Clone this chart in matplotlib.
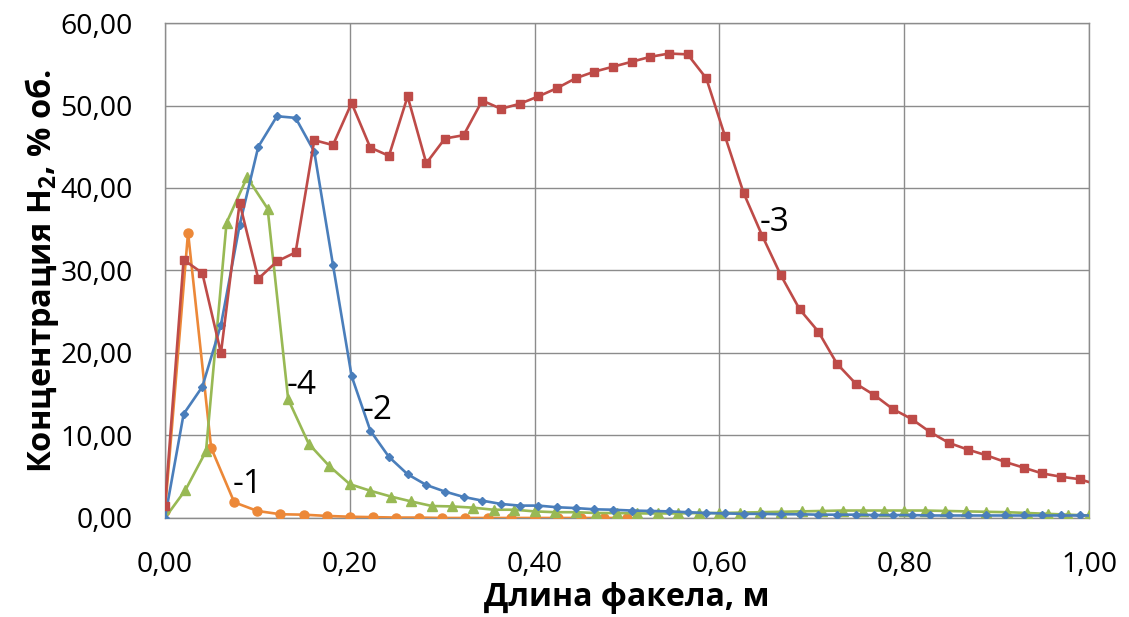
import numpy as np
import matplotlib
matplotlib.use("Agg")
import matplotlib.pyplot as plt
from matplotlib.ticker import FuncFormatter

# ---- data ----
step_23 = 0.0202   # x step of curves 2 and 3
step_4 = 1 / 45    # x step of curve 4
step_1 = 0.025     # x step of curve 1

curve1 = [0.8, 34.6, 8.5, 1.9, 0.85, 0.45, 0.4, 0.25, 0.15, 0.1, 0.05, 0.05,
          0.0, 0.0, 0.0, 0.0, 0.0, 0.0, 0.0, 0.0, 0.0]
curve2 = [0.0, 12.6, 15.9, 23.4, 35.5, 45.0, 48.7, 48.5, 44.4, 30.7, 17.2, 10.6,
          7.4, 5.3, 4.0, 3.2, 2.55, 2.1, 1.7, 1.5, 1.5, 1.3, 1.2, 1.05, 1.0, 0.9,
          0.85, 0.8, 0.7, 0.6, 0.55, 0.5, 0.5, 0.45, 0.45, 0.4, 0.4, 0.4, 0.35,
          0.35, 0.35, 0.3, 0.3, 0.3, 0.3, 0.3, 0.3, 0.3, 0.3, 0.3, 0.3]
curve3 = [1.4, 31.3, 29.7, 20.0, 38.2, 29.0, 31.1, 32.2, 45.8, 45.2, 50.3, 44.9,
          43.9, 51.1, 43.0, 46.0, 46.4, 50.6, 49.6, 50.2, 51.1, 52.1, 53.3, 54.1,
          54.7, 55.3, 55.9, 56.3, 56.2, 53.3, 46.3, 39.4, 34.2, 29.4, 25.3, 22.6,
          18.7, 16.3, 14.9, 13.2, 12.0, 10.4, 9.1, 8.3, 7.6, 6.8, 6.1, 5.4, 5.0,
          4.7, 4.0]
curve4 = [0.0, 3.4, 8.1, 35.8, 41.3, 37.5, 14.4, 9.0, 6.3, 4.1, 3.3, 2.6, 2.0,
          1.45, 1.4, 1.25, 1.0, 1.0, 0.8, 0.7, 0.7, 0.6, 0.6, 0.55, 0.55, 0.55,
          0.6, 0.6, 0.65, 0.7, 0.75, 0.8, 0.85, 0.9, 0.9, 0.9, 0.9, 0.9, 0.85,
          0.8, 0.75, 0.7, 0.6, 0.5, 0.4, 0.3]

labels = ["-1", "-2", "-3", "-4"]
label_pos = [(0.089, 4.0), (0.230, 13.0), (0.660, 35.8), (0.148, 16.0)]

x_ticks = [0.0, 0.2, 0.4, 0.6, 0.8, 1.0]
y_ticks = [0, 10, 20, 30, 40, 50, 60]
x_title = "Длина факела, м"
y_title = r"Концентрация H$\mathbf{_2}$, % об."

x1 = np.arange(len(curve1)) * step_1
x2 = np.arange(len(curve2)) * step_23
x3 = np.arange(len(curve3)) * step_23
x4 = np.arange(len(curve4)) * step_4

# ---- style ----
plt.rcParams["font.family"] = ["Open Sans", "DejaVu Sans"]
plt.rcParams["mathtext.fontset"] = "custom"
plt.rcParams["mathtext.rm"] = "Open Sans"
plt.rcParams["mathtext.bf"] = "Open Sans:bold"

c_blue = "#4A7EBB"
c_red = "#BE4B48"
c_green = "#98B954"
c_orange = "#EC8838"
grid_c = "#8C8C8C"

fig = plt.figure(figsize=(11.29, 6.17), dpi=100)
ax = fig.add_axes([0.1461, 0.1605, 0.8185, 0.8022])

lw = 1.9
ax.plot(x1, curve1, color=c_orange, lw=lw, marker="o", ms=6.5, zorder=3)
ax.plot(x4, curve4, color=c_green, lw=lw, marker="^", ms=6.5, zorder=4)
ax.plot(x2, curve2, color=c_blue, lw=lw, marker="D", ms=4.5, zorder=5)
ax.plot(x3, curve3, color=c_red, lw=lw, marker="s", ms=6, zorder=6)

for t, (lx, ly) in zip(labels, label_pos):
    ax.text(lx, ly, t, fontsize=24, ha="center", va="center", zorder=7)

ax.set_xlim(0, 1.0)
ax.set_ylim(0, 60)
ax.set_xticks(x_ticks)
ax.set_yticks(y_ticks)
fmt = FuncFormatter(lambda v, p: f"{v:.2f}".replace(".", ","))
ax.xaxis.set_major_formatter(fmt)
ax.yaxis.set_major_formatter(fmt)
ax.tick_params(axis="both", length=0, labelsize=20.5)
ax.tick_params(axis="y", pad=23)
ax.tick_params(axis="x", pad=24)

ax.grid(True, color=grid_c, lw=1.0)
ax.set_axisbelow(True)
for s in ax.spines.values():
    s.set_color(grid_c)
    s.set_linewidth(1.0)

ax.set_xlabel(x_title, fontsize=23, fontweight="bold", labelpad=1)
ax.set_ylabel(y_title, fontsize=23.5, fontweight="bold", labelpad=0)

fig.savefig("out.png", dpi=100)
